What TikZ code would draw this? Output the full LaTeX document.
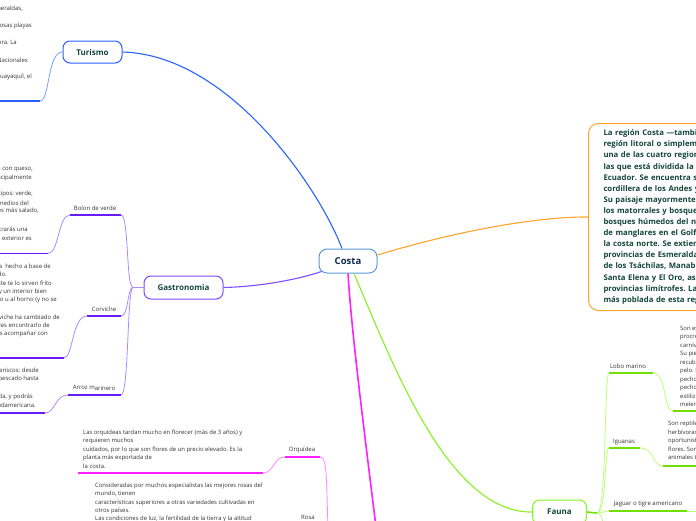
\documentclass[tikz,border=0pt]{standalone}
\usepackage{fontspec}
\setmainfont{Open Sans}
\frenchspacing
\usepackage{xcolor}
\definecolor{tdark}{HTML}{12463A}
\definecolor{navy}{HTML}{0C2A4D}
\definecolor{ink}{HTML}{333333}
\definecolor{costab}{HTML}{5B9BD5}
\definecolor{turb}{HTML}{2962FF}
\definecolor{turl}{HTML}{7A9CFF}
\definecolor{gasb}{HTML}{7C4DFF}
\definecolor{gasd}{HTML}{6A1BFA}
\definecolor{gasl}{HTML}{A98BFF}
\definecolor{florb}{HTML}{FF1FFF}
\definecolor{florl}{HTML}{FF8AFF}
\definecolor{orab}{HTML}{FFA42A}
\definecolor{faub}{HTML}{86F21E}
\definecolor{faud}{HTML}{70E000}
\definecolor{faul}{HTML}{BBFF78}
\usepackage{tikz}
\tikzset{
  topic/.style={draw,rounded corners=7pt,line width=1pt,fill=white,font=\bfseries\fontsize{8}{9}\selectfont,text=tdark,minimum height=22pt,inner sep=2pt},
  lbl/.style={font=\fontsize{6}{7}\selectfont,text=ink,inner sep=0pt},
  frag/.style={lbl,anchor=east},
  para/.style={lbl,align=left,anchor=north west,font=\fontsize{5.9}{8.45}\selectfont},
  desc/.style={draw=orab,line width=1pt,rounded corners=10pt,fill=white,anchor=north west,text width=170pt,inner xsep=15pt,minimum height=187pt,align=left,font=\bfseries\fontsize{7.75}{11.1}\selectfont,text=tdark},
  uline/.style={line width=1.8pt},
  link/.style={line width=0.8pt},
}

\begin{document}
\begin{tikzpicture}[x=1pt,y=-1pt]
\useasboundingbox (0,0) rectangle (696,520);
\clip (0,0) rectangle (696,520);
% centre
\node[topic,draw=costab,text=navy,font=\bfseries\fontsize{9.5}{11}\selectfont,minimum width=58pt,minimum height=24pt,rounded corners=8pt] (costa) at (348,261) {Costa};

% Turismo
\node[topic,draw=turb,minimum width=59pt] (turismo) at (92.5,52) {Turismo};
\coordinate (turA) at (40,101); \coordinate (turB) at (-5,101);
\draw[turb,line width=1.1pt] (turismo.east) .. controls (230,55) and (320,190) .. ([xshift=-6pt]costa.north);
\draw[link,turl] (turismo.west) .. controls (47,52) and (50,101) .. (turA);
\draw[uline,turb] (turA) -- (turB);
\foreach \fx/\fy/\ft [count=\i] in {23/9/{Esmeraldas,},32/26/{hermosas playas},17/42/{costera. La},28/60/{Nacionales},32/77/{Guayaquil, el}}
  \node[frag] (turtx\i) at (\fx,\fy) {\ft};

% Gastronomia
\node[topic,draw=gasb,minimum width=79pt,minimum height=23pt] (gastro) at (183.5,287.5) {Gastronomia};
\coordinate (gastroJ) at (133,287.5);
\draw[gasb,line width=1.1pt] (gastro.east) .. controls (250,287) and (290,282) .. ([xshift=3pt,yshift=2pt]costa.south west);
\draw[link,gasl] (gastro.west) -- (gastroJ);
% Bolon de verde
\node[lbl] (bolon) at (95,208) {Bolon de verde};
\coordinate (bolonL) at (70,215); \coordinate (bolonR) at (121,215); \coordinate (bolonA) at (48,253.5);
\draw[uline,gasd] (bolonL) -- (bolonR);
\draw[link,gasl] (bolonR) .. controls (129,215) and (126,287.5) .. (gastroJ);
\draw[link,gasl] (bolonL) .. controls (58,215) and (59,253.5) .. (bolonA);
\draw[uline,gasd] (bolonA) -- (-5,253.5);
\foreach \fx/\fy/\ft [count=\i] in {33/170/{masa con queso,},32/178/{principalmente},33/194/{tipos: verde,},29/203/{medios del},39/211/{es más salado,},28/229/{encontrarás una},32/238/{exterior es}}
  \node[frag] (boltx\i) at (\fx,\fy) {\ft};
% Corviche
\node[lbl] (corviche) at (104,309) {Corviche};
\coordinate (corL) at (87,316); \coordinate (corR) at (121,316); \coordinate (corA) at (64,358);
\draw[uline,gasd] (corL) -- (corR);
\draw[link,gasl] (corR) .. controls (129,316) and (127,287.5) .. (gastroJ);
\draw[link,gasl] (corL) .. controls (72,316) and (73,358) .. (corA);
\draw[uline,gasd] (corA) -- (-5,358);
\foreach \fx/\fy/\ft [count=\i] in {51/266/{masa \ hecho a base de},7/275/{pescado.},52/283/{Generalmente te lo sirven frito},47/292/{crujiente y un interior bien},57/300/{asado u al horno (y no se},60/317/{corviche ha cambiado de},50/326/{puedes encontrarlo de},48/334/{puedes acompañar con}}
  \node[frag] (cortx\i) at (\fx,\fy) {\ft};
% Arroz marinero
\node[lbl] (arroz) at (94,388) {Arroz m\raisebox{-0.8pt}{arinero}};
\coordinate (arrL) at (68,395); \coordinate (arrR) at (121,395); \coordinate (arrA) at (45,413);
\draw[uline,gasd] (arrL) -- (arrR);
\draw[link,gasl] (arrR) .. controls (129,395) and (127,287.5) .. (gastroJ);
\draw[link,gasl] (arrL) .. controls (55,395) and (55,413) .. (arrA);
\draw[uline,gasd] (arrA) -- (-5,413);
\foreach \fx/\fy/\ft [count=\i] in {39/370/{mariscos: desde},39/379/{pescado hasta},33/397/{picada, y podrás},36/405/{sudamericana.}}
  \node[frag] (arrtx\i) at (\fx,\fy) {\ft};

% Flora (node below the frame)
\coordinate (flora) at (380,560);
\coordinate (floraJ) at (329,560);
\draw[florb,line width=1.6pt] (costa.south) .. controls (352,340) and (368,460) .. (flora);
% Orquidea
\node[lbl] (orquidea) at (302,450) {Orquídea};
\coordinate (orqL) at (285,457); \coordinate (orqR) at (320,457); \coordinate (orqA) at (263,473);
\draw[uline,florb] (orqL) -- (orqR);
\draw[link,florl] (orqR) .. controls (328,457) and (326,480) .. (floraJ);
\draw[link,florl] (orqL) .. controls (273,457) and (274,473) .. (orqA);
\draw[uline,florb] (orqA) -- (78,473);
\node[para] (orqtxt) at (83,429.5) {Las orquídeas tardan mucho en florecer (más de 3 años) y\\requieren muchos\\cuidados, por lo que son flores de un precio elevado. Es la\\planta más exportada de\\la costa.};
% Rosa
\node[lbl] (rosa) at (308,517) {Rosa};
\node[para] (rosatxt) at (95,482.5) {Consideradas por muchos especialistas las mejores rosas del\\mundo, tienen\\características superiores a otras variedades cultivadas en\\otros países.\\Las condiciones de luz, la fertilidad de la tierra y la altitud};

% Descripcion
\node[desc] (costatxt) at (588,123) {La región Costa —también\\región litoral o simplemente\\una de las cuatro regiones\\las que está dividida la\\Ecuador. Se encuentra situada\\cordillera de los Andes y el\\Su paisaje mayormente está\\los matorrales y bosques\\bosques húmedos del norte\\de manglares en el Golfo\\la costa norte. Se extiende\\provincias de Esmeraldas,\\de los Tsáchilas, Manabí,\\Santa Elena y El Oro, así\\provincias limítrofes. La\\más poblada de esta región};
\draw[orab,line width=1.1pt] ([yshift=6pt]costa.east) .. controls (460,230) and (540,216.5) .. (costatxt.west);

% Fauna
\node[topic,draw=faub,minimum width=54pt,minimum height=24pt] (fauna) at (559.5,512) {Fauna};
\coordinate (faunaJ) at (597,513);
\draw[faub,line width=1.1pt] ([xshift=6pt]costa.south) .. controls (395,370) and (450,513) .. (fauna.west);
\draw[faud,line width=1.6pt] (fauna.east) -- (faunaJ);
% Lobo marino
\node[lbl] (lobo) at (628,366) {Lobo marino};
\coordinate (loboL) at (609,373); \coordinate (loboR) at (653,373); \coordinate (loboA) at (673,411);
\draw[uline,faud] (loboL) -- (loboR);
\draw[link,faul] (faunaJ) .. controls (607,513) and (604,373) .. (loboL);
\draw[link,faul] (loboR) .. controls (667,373) and (663,411) .. (loboA);
\draw[uline,faud] (loboA) -- (700,411);
\node[para] (lobotxt) at (680,326) {Son es\\procre\\carnív\\Su pie\\recub\\pelo. L\\pecho\\pecho\\estiliz\\melen};
% Iguanas
\node[lbl] (iguanas) at (624,442) {Iguanas};
\coordinate (iguL) at (609,448); \coordinate (iguR) at (640,448); \coordinate (iguA) at (663,466);
\draw[uline,faud] (iguL) -- (iguR);
\draw[link,faul] (faunaJ) .. controls (607,513) and (604,448) .. (iguL);
\draw[link,faul] (iguR) .. controls (655,448) and (652,466) .. (iguA);
\draw[uline,faud] (iguA) -- (700,466);
\node[para] (igutxt) at (668,421) {Son reptile\\herbívoras\\oportunist\\flores. Son\\animales t};
% Jaguar
\node[lbl] (jaguar) at (648,504) {Jaguar o tigre americano};
\coordinate (jagL) at (609,511); \coordinate (jagR) at (687,511);
\draw[uline,faud] (jagL) -- (jagR);
\draw[link,faul] (faunaJ) .. controls (603,513) and (604,511) .. (jagL);
\draw[link,faul] (jagR) -- (700,511);
\coordinate (faunaD) at (609,560);
\draw[link,faul] (faunaJ) .. controls (607,513) and (604,560) .. (faunaD);
\end{tikzpicture}
\end{document}
